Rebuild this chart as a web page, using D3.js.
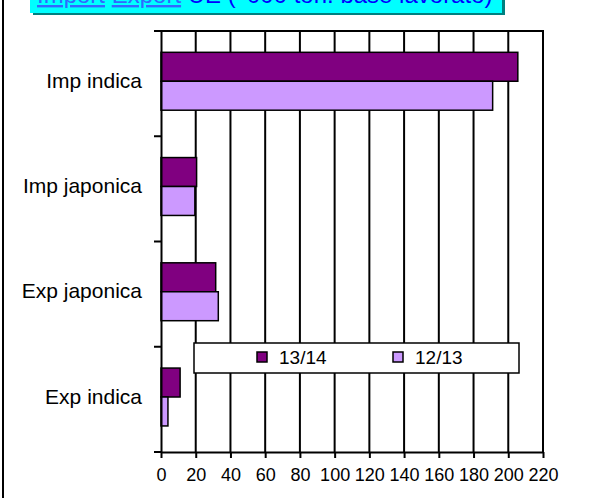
<!DOCTYPE html>
<html>
<head>
<meta charset="utf-8">
<script src="https://cdn.jsdelivr.net/npm/d3@7"></script>
<style>
  body { margin: 0; background: #fff; }
  svg { display: block; font-family: "Liberation Sans", Arial, sans-serif; }
</style>
</head>
<body>
<svg></svg>
<script>
let categories = ['Imp indica', 'Imp japonica', 'Exp japonica', 'Exp indica']
let seriesNames = ['13/14', '12/13']
let values1314 = [205.5, 20.5, 31.5, 11]
let values1213 = [191, 19.5, 33, 4]
let xTicks = [0, 20, 40, 60, 80, 100, 120, 140, 160, 180, 200, 220]
let colors = ['#800080', '#CC99FF']

let width = 591
let height = 498
let plot = { left: 161, right: 543, top: 31, bottom: 452 }
let svg = d3.select('svg')
let xScale, yScale, innerScale

let drawCanvas = () => {
    svg.attr('width', width)
    svg.attr('height', height)
    svg.append('line')
        .attr('x1', 3).attr('x2', 3)
        .attr('y1', 0).attr('y2', height)
        .attr('stroke', '#000').attr('stroke-width', 2)
}

let drawTitle = () => {
    svg.append('rect')
        .attr('x', 33).attr('y', -10)
        .attr('width', 472).attr('height', 25)
        .attr('fill', '#008080')
    svg.append('rect')
        .attr('x', 30).attr('y', -10)
        .attr('width', 472).attr('height', 23)
        .attr('fill', '#00FFFF')
    // title is cropped at the top edge in the source image
    let t = svg.append('text')
        .attr('x', 37).attr('y', 3)
        .attr('font-size', 24)
        .attr('fill', '#0000FF')
    t.append('tspan').text('Import').attr('fill', '#3366FF').style('text-decoration', 'underline')
    t.append('tspan').text(' ')
    t.append('tspan').text('Export').attr('fill', '#3366FF').style('text-decoration', 'underline')
    t.append('tspan').text(" UE ( '000 ton. base lavorato)")
}

let generateScales = () => {
    xScale = d3.scaleLinear()
        .domain([0, 220])
        .range([plot.left, plot.right])
    yScale = d3.scaleBand()
        .domain(categories)
        .range([plot.top, plot.bottom])
        .paddingInner(0.45)
        .paddingOuter(0.225)
        .align(0.45)
    innerScale = d3.scaleBand()
        .domain(seriesNames)
        .range([0, yScale.bandwidth()])
}

let drawGrid = () => {
    svg.append('g')
        .selectAll('line')
        .data(xTicks.slice(1))
        .enter()
        .append('line')
        .attr('x1', (d) => xScale(d))
        .attr('x2', (d) => xScale(d))
        .attr('y1', plot.top)
        .attr('y2', plot.bottom)
        .attr('stroke', '#000')
        .attr('stroke-width', 2)
    svg.append('line')
        .attr('x1', plot.left - 7).attr('x2', plot.right + 1)
        .attr('y1', plot.top).attr('y2', plot.top)
        .attr('stroke', '#000').attr('stroke-width', 2)
}

let drawBars = () => {
    let rows = categories.map((c, i) => ({ cat: c, vals: [values1314[i], values1213[i]] }))
    let groups = svg.selectAll('g.row')
        .data(rows)
        .enter()
        .append('g')
        .attr('class', 'row')
        .attr('transform', (d) => 'translate(0,' + yScale(d.cat) + ')')
    groups.selectAll('rect')
        .data((d) => d.vals.map((v, i) => ({ name: seriesNames[i], value: v, color: colors[i] })))
        .enter()
        .append('rect')
        .attr('x', xScale(0))
        .attr('y', (d) => innerScale(d.name))
        .attr('width', (d) => xScale(d.value) - xScale(0))
        .attr('height', innerScale.bandwidth())
        .attr('fill', (d) => d.color)
        .attr('stroke', '#000')
        .attr('stroke-width', 1.5)
}

let generateAxes = () => {
    let xAxis = d3.axisBottom(xScale)
        .tickValues(xTicks)
        .tickSize(6)
        .tickPadding(10)
        .tickSizeOuter(0)
    let gx = svg.append('g')
        .call(xAxis)
        .attr('id', 'x-axis')
        .attr('transform', 'translate(0,' + plot.bottom + ')')
    gx.select('.domain').attr('stroke', '#000').attr('stroke-width', 2)
    gx.selectAll('line').attr('stroke', '#000').attr('stroke-width', 2)
    gx.selectAll('text')
        .attr('font-size', 18)
        .attr('font-family', '"Liberation Sans", Arial, sans-serif')
        .attr('fill', '#000')

    let yAxis = d3.axisLeft(yScale).tickSize(0).tickPadding(19)
    let gy = svg.append('g')
        .call(yAxis)
        .attr('id', 'y-axis')
        .attr('transform', 'translate(' + plot.left + ',0)')
    gy.select('.domain').attr('stroke', '#000').attr('stroke-width', 2)
    gy.selectAll('text')
        .attr('font-size', 21)
        .attr('font-family', '"Liberation Sans", Arial, sans-serif')
        .attr('fill', '#000')

    // tick marks at category boundaries
    let bounds = d3.range(categories.length + 1).map((i) => plot.top + i * (plot.bottom - plot.top) / categories.length)
    svg.append('g')
        .selectAll('line')
        .data(bounds)
        .enter()
        .append('line')
        .attr('x1', plot.left - 7).attr('x2', plot.left)
        .attr('y1', (d) => d).attr('y2', (d) => d)
        .attr('stroke', '#000').attr('stroke-width', 2)
}

let drawLegend = () => {
    let lg = svg.append('g').attr('transform', 'translate(194,343)')
    lg.append('rect')
        .attr('width', 325).attr('height', 30)
        .attr('fill', '#fff')
        .attr('stroke', '#000').attr('stroke-width', 1.5)
    let items = lg.selectAll('g.item')
        .data(seriesNames)
        .enter()
        .append('g')
        .attr('class', 'item')
        .attr('transform', (d, i) => 'translate(' + (63 + i * 136) + ',0)')
    items.append('rect')
        .attr('x', 0).attr('y', 9)
        .attr('width', 10).attr('height', 10)
        .attr('fill', (d, i) => colors[i])
        .attr('stroke', '#000').attr('stroke-width', 1.5)
    items.append('text')
        .attr('x', 22).attr('y', 21)
        .attr('font-size', 19)
        .text((d) => d)
}

drawCanvas()
drawTitle()
generateScales()
drawGrid()
drawBars()
drawLegend()
generateAxes()
</script>
</body>
</html>
